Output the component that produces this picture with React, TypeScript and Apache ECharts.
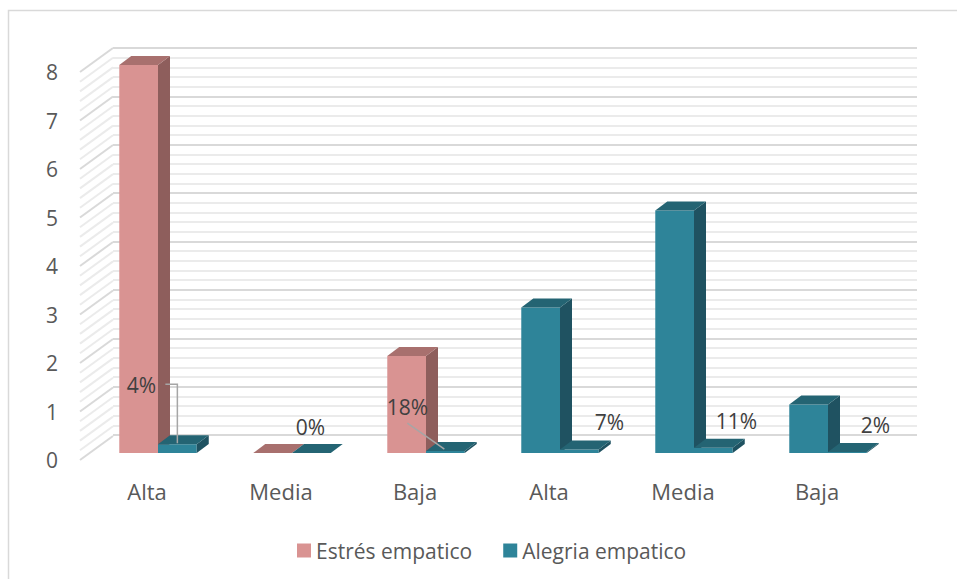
import React, { useEffect, useRef } from 'react';
import * as echarts from 'echarts';

// ---------- data ----------
const categories = ['Alta', 'Media', 'Baja', 'Alta', 'Media', 'Baja'];
const categoryGroup = [
  'Estrés empatico', 'Estrés empatico', 'Estrés empatico',
  'Alegria empatico', 'Alegria empatico', 'Alegria empatico',
];
const seriesNames = ['Estrés empatico', 'Alegria empatico'];
const estresValues = [8, 0, 2, 3, 5, 1];
const alegriaValues = [0.18, 0, 0.04, 0.07, 0.11, 0.02];
const alegriaLabels = ['4%', '0%', '18%', '7%', '11%', '2%'];
const yMin = 0;
const yMax = 8;
const yInterval = 1;
const minorSplits = 5;

// ---------- styles / layout ----------
const FONT = '"Open Sans", sans-serif';
const FRONT = { left: 80, top: 72, width: 804, height: 388 };
const WALL_DEPTH = { x: 33, y: -24 };
const BAR_SHIFT = { x: 11, y: -7 };
const BAR_DEPTH = { x: 12, y: -9 };
const BAR_W_RATIO = 0.289;
const PAL: Record<string, { front: string; side: string; top: string }> = {
  'Estrés empatico': { front: '#D99392', side: '#8E5E5C', top: '#A8706E' },
  'Alegria empatico': { front: '#2E8499', side: '#1F5261', top: '#246473' },
};
const LABEL_LAYOUT: { dx: number; dy: number; leader?: number[][] }[] = [
  { dx: -36, dy: -59, leader: [[-12, -60], [0, -60], [0, -1]] },
  { dx: -1, dy: -26 },
  { dx: -38, dy: -44, leader: [[-38, -28], [-1, -2]] },
  { dx: 30, dy: -28 },
  { dx: 23, dy: -27 },
  { dx: 28, dy: -27 },
];

function makeBarRender(pos: number) {
  return (params: any, api: any) => {
    const idx = params.dataIndex;
    const cat = api.value(0);
    const val = api.value(1);
    const base = api.coord([cat, 0]);
    const topP = api.coord([cat, val]);
    const band = api.size([1, 0])[0];
    const w = band * BAR_W_RATIO;
    const x = base[0] + BAR_SHIFT.x - w + pos * w;
    const yb = base[1] + BAR_SHIFT.y;
    const yt = topP[1] + BAR_SHIFT.y;
    const groupName = pos === 0 ? categoryGroup[idx] : seriesNames[1];
    const pal = PAL[groupName];
    const dx = BAR_DEPTH.x;
    const dy = BAR_DEPTH.y;
    const children: any[] = [];
    if (yb - yt > 0.1) {
      children.push({
        type: 'rect',
        shape: { x, y: yt, width: w, height: yb - yt },
        style: { fill: pal.front },
      });
      children.push({
        type: 'polygon',
        shape: { points: [[x + w, yt], [x + w + dx, yt + dy], [x + w + dx, yb + dy], [x + w, yb]] },
        style: { fill: pal.side },
      });
    }
    children.push({
      type: 'polygon',
      shape: { points: [[x, yt], [x + dx, yt + dy], [x + w + dx, yt + dy], [x + w, yt]] },
      style: { fill: pal.top },
    });
    if (pos === 1) {
      const cx = x + w / 2;
      const lay = LABEL_LAYOUT[idx];
      if (lay.leader) {
        children.push({
          type: 'polyline',
          shape: { points: lay.leader.map((p) => [cx + p[0], yt + p[1]]) },
          style: { stroke: '#A6A6A6', lineWidth: 1.5, fill: 'none' },
        });
      }
      children.push({
        type: 'text',
        x: cx + lay.dx,
        y: yt + lay.dy,
        style: {
          text: alegriaLabels[idx],
          fontSize: 21,
          fontFamily: FONT,
          fill: '#404040',
          align: 'center',
          verticalAlign: 'middle',
        },
      });
    }
    return { type: 'group', children };
  };
}

function wallRender(params: any, api: any) {
  const cs = params.coordSys;
  const children: any[] = [];
  const steps = ((yMax - yMin) / yInterval) * minorSplits;
  for (let k = 0; k <= steps; k++) {
    const v = yMin + (k * yInterval) / minorSplits;
    const y = api.coord([0, v])[1];
    const major = k % minorSplits === 0;
    children.push({
      type: 'line',
      shape: { x1: cs.x, y1: y, x2: cs.x + WALL_DEPTH.x, y2: y + WALL_DEPTH.y },
      style: { stroke: major ? '#D9D9D9' : '#EBEBEB', lineWidth: 2 },
    });
  }
  return { type: 'group', children };
}

export default function App() {
  const ref = useRef<HTMLDivElement>(null);
  useEffect(() => {
    if (!ref.current) return;
    const chart = echarts.init(ref.current, null, { renderer: 'svg' });
    const axisText = { fontSize: 21, color: '#595959', fontFamily: FONT };
    chart.setOption({
      animation: false,
      backgroundColor: '#ffffff',
      graphic: [
        {
          type: 'rect',
          silent: true,
          z: -10,
          shape: { x: 8.5, y: 10.5, width: 1000, height: 1000 },
          style: { fill: 'none', stroke: '#D9D9D9', lineWidth: 1.5 },
        },
      ],
      legend: {
        data: seriesNames,
        left: 292,
        top: 535,
        icon: 'rect',
        itemWidth: 14,
        itemHeight: 14,
        itemGap: 31,
        textStyle: { fontSize: 21, color: '#595959', fontFamily: FONT },
      },
      grid: [
        {
          left: FRONT.left + WALL_DEPTH.x,
          top: FRONT.top + WALL_DEPTH.y,
          width: FRONT.width,
          height: FRONT.height - 1,
        },
        { left: FRONT.left, top: FRONT.top, width: FRONT.width, height: FRONT.height },
      ],
      xAxis: [
        { gridIndex: 0, type: 'category', data: categories, show: false },
        {
          gridIndex: 1,
          type: 'category',
          data: categories,
          axisLine: { show: false },
          axisTick: { show: false },
          axisLabel: { ...axisText, fontSize: 22, margin: 20 },
        },
      ],
      yAxis: [
        {
          gridIndex: 0,
          type: 'value',
          min: yMin,
          max: yMax,
          interval: yInterval,
          axisLabel: { show: false },
          axisLine: { show: false },
          axisTick: { show: false },
          splitLine: { show: true, lineStyle: { color: '#D9D9D9', width: 2 } },
          minorTick: { show: false, splitNumber: minorSplits },
          minorSplitLine: { show: true, lineStyle: { color: '#EBEBEB', width: 2 } },
        },
        {
          gridIndex: 1,
          type: 'value',
          min: yMin,
          max: yMax,
          interval: yInterval,
          axisLabel: { ...axisText, margin: 22 },
          axisLine: { show: false },
          axisTick: { show: false },
          splitLine: { show: false },
        },
      ],
      series: [
        {
          type: 'custom',
          name: 'wall',
          xAxisIndex: 1,
          yAxisIndex: 1,
          silent: true,
          z: 1,
          renderItem: wallRender,
          data: [[0, 0]],
        },
        {
          type: 'custom',
          name: seriesNames[0],
          xAxisIndex: 1,
          yAxisIndex: 1,
          z: 2,
          itemStyle: { color: PAL[seriesNames[0]].front },
          renderItem: makeBarRender(0),
          data: estresValues.map((v, i) => [i, v]),
        },
        {
          type: 'custom',
          name: seriesNames[1],
          xAxisIndex: 1,
          yAxisIndex: 1,
          z: 3,
          itemStyle: { color: PAL[seriesNames[1]].front },
          renderItem: makeBarRender(1),
          data: alegriaValues.map((v, i) => [i, v]),
        },
      ],
    });
    return () => chart.dispose();
  }, []);
  return (
    <div
      ref={ref}
      style={{ position: 'fixed', left: 0, top: 0, width: 957, height: 579 }}
    />
  );
}
